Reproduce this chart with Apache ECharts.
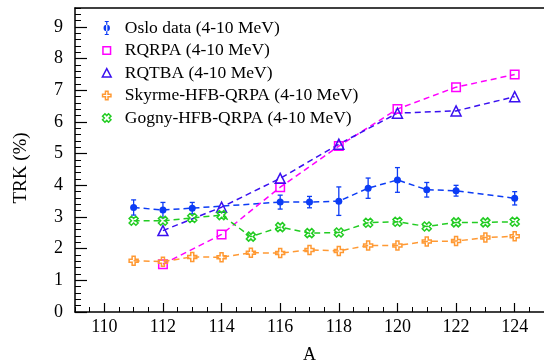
<!DOCTYPE html>
<html>
<head>
<meta charset="utf-8">
<script src="https://cdn.jsdelivr.net/npm/echarts@6/dist/echarts.min.js"></script>
<style>
html,body{margin:0;padding:0;background:#fff;}
#chart{width:544px;height:364px;}
</style>
</head>
<body>
<div id="chart"></div>
<script>
// ---- data ----
const osloA   = [111,112,113,116,117,118,119,120,121,122,124];
const osloV   = [3.30,3.22,3.28,3.47,3.47,3.50,3.91,4.17,3.86,3.83,3.59];
const osloErr = [0.24,0.24,0.18,0.22,0.18,0.45,0.32,0.39,0.23,0.17,0.21];

const rqA     = [112,114,116,118,120,122,124];
const rqrpaV  = [1.51,2.45,3.94,5.24,6.41,7.10,7.50];
const rqtbaV  = [2.57,3.31,4.22,5.30,6.28,6.35,6.80];

const hfbA    = [111,112,113,114,115,116,117,118,119,120,121,122,123,124];
const skyrmeV = [1.62,1.59,1.74,1.73,1.87,1.86,1.96,1.93,2.10,2.10,2.23,2.24,2.35,2.39];
const gognyV  = [2.88,2.88,2.97,3.06,2.38,2.68,2.49,2.51,2.82,2.85,2.70,2.83,2.83,2.85];

const xTicks = [110,112,114,116,118,120,122,124];
const yTicks = [0,1,2,3,4,5,6,7,8,9];

const names = ['Oslo data (4-10 MeV)','RQRPA (4-10 MeV)','RQTBA (4-10 MeV)','Skyrme-HFB-QRPA (4-10 MeV)','Gogny-HFB-QRPA (4-10 MeV)'];

// ---- styles ----
const C_OSLO = '#0c3cf5', C_RQRPA = '#ff00ff', C_RQTBA = '#3a10f0', C_SKY = '#ff9933', C_GOG = '#22cc22';
const FONT = 'Liberation Serif';
const PLUS = 'path://M3,0 L6,0 L6,3 L9,3 L9,6 L6,6 L6,9 L3,9 L3,6 L0,6 L0,3 L3,3 Z';
const XCROSS = 'path://M2.12,-4.24 L4.24,-2.12 L2.12,0 L4.24,2.12 L2.12,4.24 L0,2.12 L-2.12,4.24 L-4.24,2.12 L-2.12,0 L-4.24,-2.12 L-2.12,-4.24 L0,-2.12 Z';

// legend icons (box 0..14)
const L_OSLO = 'path://M0,0 M14,14 M6.4,0 L7.6,0 L7.6,14 L6.4,14 Z M5,0 L9,0 L9,1 L5,1 Z M5,13 L9,13 L9,14 L5,14 Z M3.8,7 A3.2,3.2 0 1,0 10.2,7 A3.2,3.2 0 1,0 3.8,7 Z';
const L_SQ   = 'path://M0,0 M14,14 M3.2,3.2 L10.8,3.2 L10.8,10.8 L3.2,10.8 Z';
const L_TRI  = 'path://M0,0 M14,14 M7,2.6 L11.4,11 L2.6,11 Z';
const L_PLUS = 'path://M0,0 M14,14 M5.7,2.8 L8.3,2.8 L8.3,5.7 L11.2,5.7 L11.2,8.3 L8.3,8.3 L8.3,11.2 L5.7,11.2 L5.7,8.3 L2.8,8.3 L2.8,5.7 L5.7,5.7 Z';
const L_X    = 'path://M0,0 M14,14 M8.8,2.8 L11.2,5.2 L9.4,7 L11.2,8.8 L8.8,11.2 L7,9.4 L5.2,11.2 L2.8,8.8 L4.6,7 L2.8,5.2 L5.2,2.8 L7,4.6 Z';

function pairs(xs, ys){ return xs.map((x,i)=>[x, ys[i]]); }

const chart = echarts.init(document.getElementById('chart'), null, {renderer:'canvas'});

const dashed = (c)=>({color:c, width:1.5, type:[6,4]});
const hollow = (c)=>({color:'rgba(0,0,0,0)', borderColor:c, borderWidth:1.5});

chart.setOption({
  animation:false,
  backgroundColor:'#fff',
  textStyle:{fontFamily:FONT, color:'#000'},
  grid:{left:75, right:0, top:8, bottom:52, containLabel:false, outerBoundsMode:'none'},
  legend:{
    orient:'vertical', left:94, top:14, itemWidth:14, itemHeight:14, itemGap:4.5,
    textStyle:{fontFamily:FONT, fontSize:17.5, color:'#000', padding:[0,0,0,6]},
    selectedMode:false,
    data:[
      {name:names[0], icon:L_OSLO, itemStyle:{color:C_OSLO, borderWidth:0}},
      {name:names[1], icon:L_SQ, itemStyle:hollow(C_RQRPA)},
      {name:names[2], icon:L_TRI, itemStyle:hollow(C_RQTBA)},
      {name:names[3], icon:L_PLUS, itemStyle:hollow(C_SKY)},
      {name:names[4], icon:L_X, itemStyle:hollow(C_GOG)}
    ]
  },
  xAxis:[
    {type:'value', min:109, max:125, position:'bottom',
     name:'A', nameLocation:'middle', nameGap:34,
     nameTextStyle:{fontFamily:FONT, fontSize:18, color:'#000'},
     axisLine:{show:true, lineStyle:{color:'#000', width:1.5}},
     axisTick:{show:true, inside:true, length:9, customValues:xTicks, lineStyle:{color:'#000', width:1.2}},
     axisLabel:{show:true, customValues:xTicks, fontFamily:FONT, fontSize:18, color:'#000', margin:6},
     splitLine:{show:false}},
    {type:'value', min:109, max:125, interval:0.5, position:'bottom',
     axisLine:{show:false}, axisLabel:{show:false}, splitLine:{show:false},
     axisTick:{show:true, inside:true, length:5, lineStyle:{color:'#000', width:1}}},
    {type:'value', min:109, max:125, position:'top',
     axisLine:{show:true, lineStyle:{color:'#000', width:1.5}},
     axisTick:{show:false}, axisLabel:{show:false}, splitLine:{show:false}}
  ],
  yAxis:[
    {type:'value', min:0, max:9.6, position:'left',
     name:'TRK (%)', nameLocation:'middle', nameGap:44, nameRotate:90,
     nameTextStyle:{fontFamily:FONT, fontSize:19, color:'#000', padding:[0,16,0,0]},
     axisLine:{show:true, lineStyle:{color:'#000', width:1.5}},
     axisTick:{show:true, inside:true, length:12, customValues:yTicks, lineStyle:{color:'#000', width:1.2}},
     axisLabel:{show:true, customValues:yTicks, fontFamily:FONT, fontSize:18, color:'#000', margin:12},
     splitLine:{show:false}},
    {type:'value', min:0, max:9.6, interval:0.2, position:'left',
     axisLine:{show:false}, axisLabel:{show:false}, splitLine:{show:false},
     axisTick:{show:true, inside:true, length:6, lineStyle:{color:'#000', width:1}}}
  ],
  series:[
    {name:'oslo-err', type:'custom', xAxisIndex:0, yAxisIndex:0, z:3,
     data: osloA.map((x,i)=>[x, osloV[i], osloErr[i]]),
     renderItem:function(params, api){
       const x = api.value(0), v = api.value(1), e = api.value(2);
       const t = api.coord([x, v+e]), b = api.coord([x, v-e]);
       const cw = 2.5, st = {stroke:C_OSLO, lineWidth:1.3};
       return {type:'group', children:[
         {type:'line', shape:{x1:t[0], y1:t[1], x2:b[0], y2:b[1]}, style:st},
         {type:'line', shape:{x1:t[0]-cw, y1:t[1], x2:t[0]+cw, y2:t[1]}, style:st},
         {type:'line', shape:{x1:b[0]-cw, y1:b[1], x2:b[0]+cw, y2:b[1]}, style:st}
       ]};
     }},
    {name:names[0], type:'line', xAxisIndex:0, yAxisIndex:0, z:4,
     data:pairs(osloA, osloV), symbol:'circle', symbolSize:7,
     itemStyle:{color:C_OSLO}, lineStyle:dashed(C_OSLO)},
    {name:names[1], type:'line', xAxisIndex:0, yAxisIndex:0, z:4,
     data:pairs(rqA, rqrpaV), symbol:'rect', symbolSize:8.5,
     itemStyle:hollow(C_RQRPA), lineStyle:dashed(C_RQRPA)},
    {name:names[2], type:'line', xAxisIndex:0, yAxisIndex:0, z:4,
     data:pairs(rqA, rqtbaV), symbol:'triangle', symbolSize:[10,10],
     itemStyle:hollow(C_RQTBA), lineStyle:dashed(C_RQTBA)},
    {name:names[3], type:'line', xAxisIndex:0, yAxisIndex:0, z:4,
     data:pairs(hfbA, skyrmeV), symbol:PLUS, symbolSize:9,
     itemStyle:hollow(C_SKY), lineStyle:dashed(C_SKY)},
    {name:names[4], type:'line', xAxisIndex:0, yAxisIndex:0, z:4,
     data:pairs(hfbA, gognyV), symbol:XCROSS, symbolSize:9,
     itemStyle:hollow(C_GOG), lineStyle:dashed(C_GOG)}
  ]
});
</script>
</body>
</html>
